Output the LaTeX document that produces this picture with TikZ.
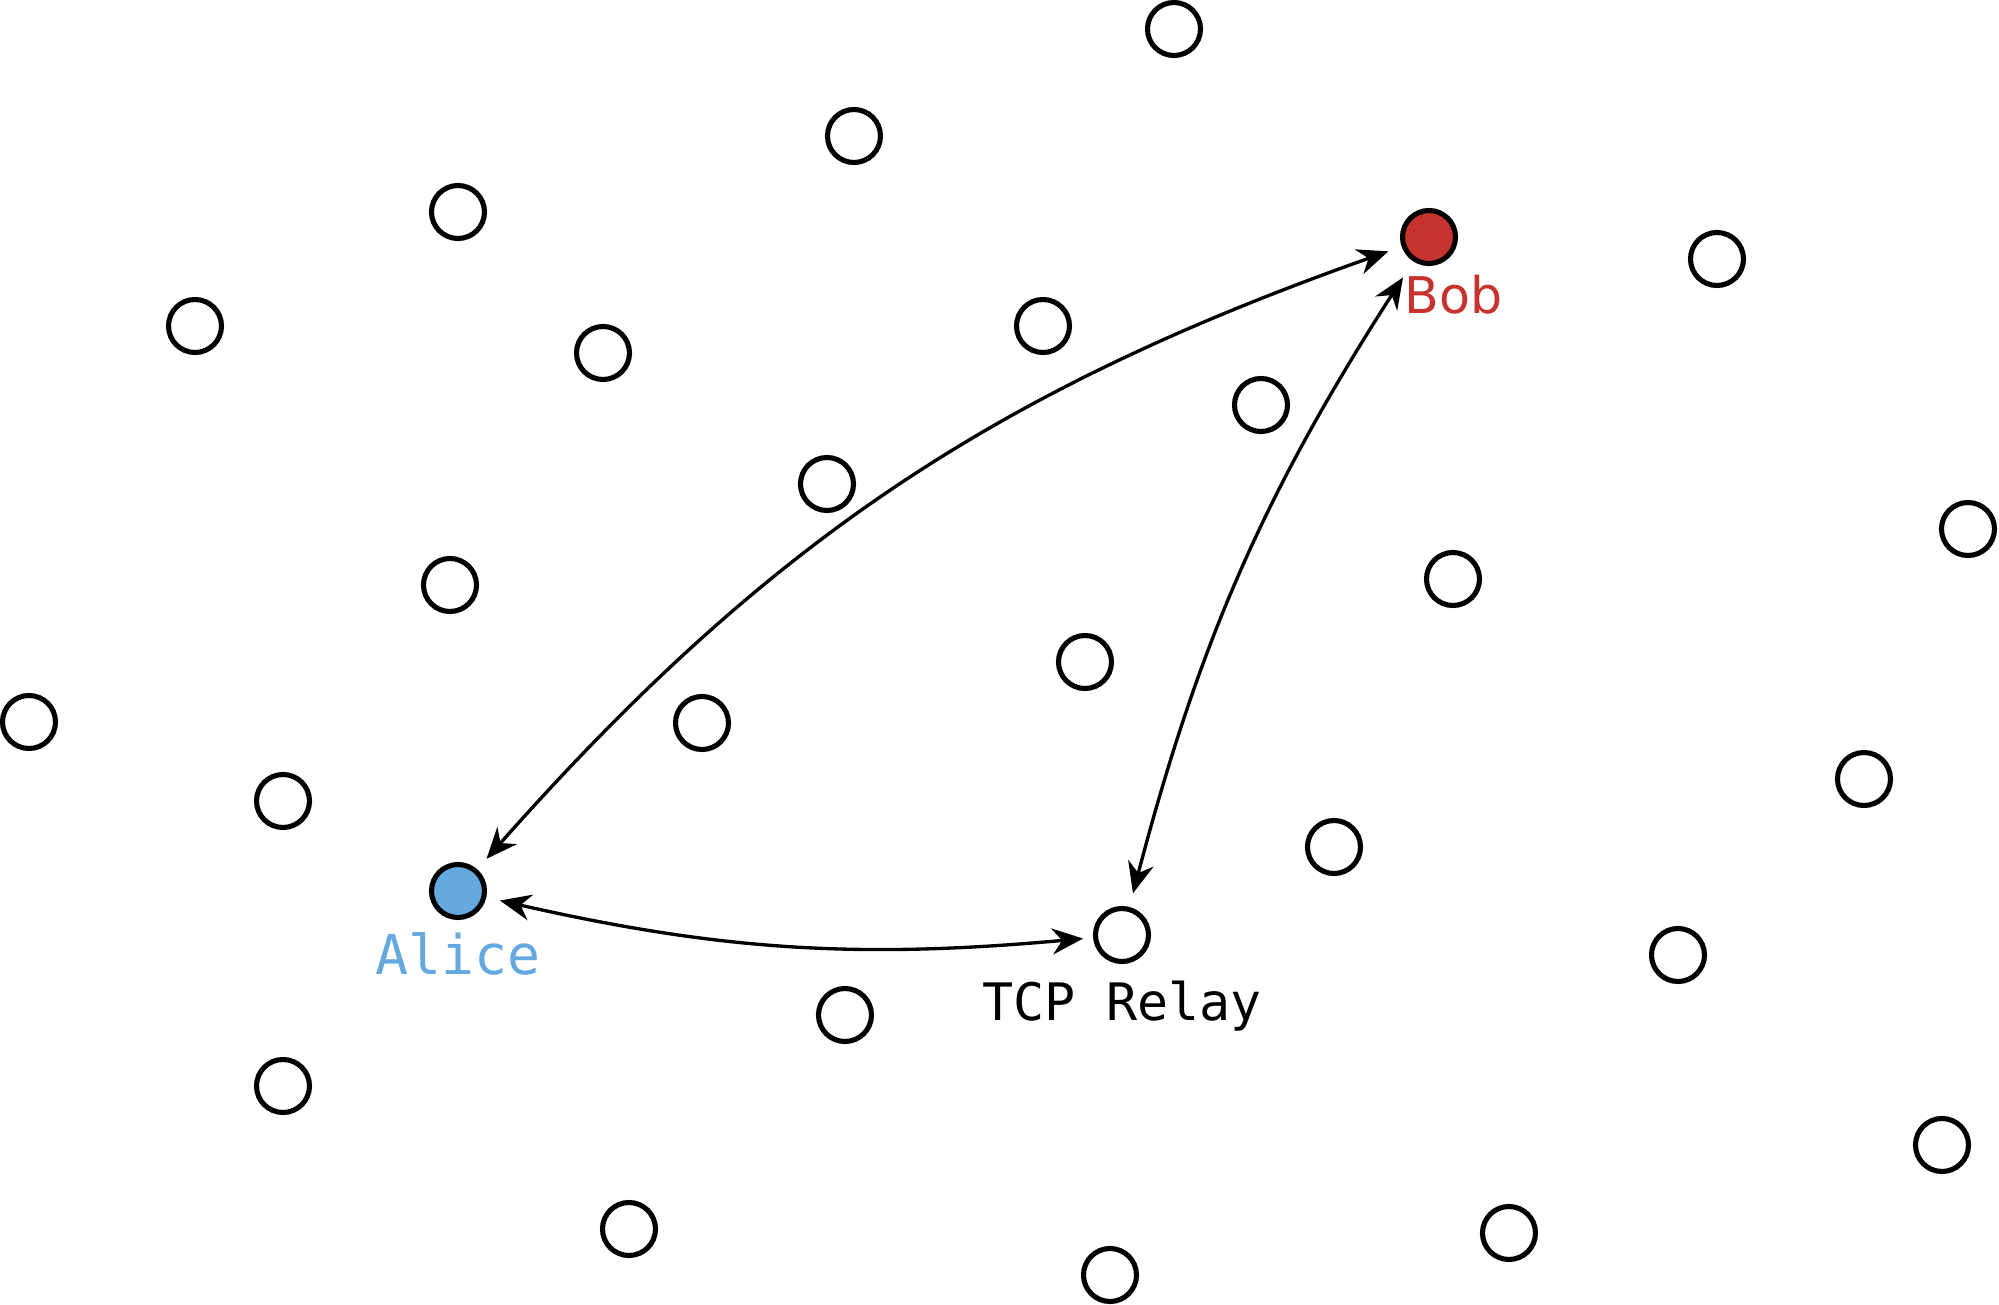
\documentclass[tikz,border=0pt]{standalone}
\usepackage{fontspec}
\setsansfont{DejaVu Sans}
\setmonofont{DejaVu Sans Mono}
\usepackage{xcolor}
\usepackage{tikz}
\usetikzlibrary{arrows.meta}

\definecolor{aliceblue}{HTML}{64A8E0}
\definecolor{bobred}{HTML}{C8322D}

\begin{document}
\begin{tikzpicture}[
    peer/.style={draw, circle, line width=1.45pt, minimum size=0.53cm, inner sep=0pt},
    alicepeer/.style={peer, fill=aliceblue},
    bobpeer/.style={peer, fill=bobred},
    tag/.style={anchor=base, inner sep=0pt, font=\fontsize{14.7}{18}\selectfont\ttfamily},
    link/.style={{Stealth[length=3.1mm,width=2.6mm,inset=1mm]}-{Stealth[length=3.1mm,width=2.6mm,inset=1mm]},
                 line width=0.95pt, shorten <=0.14cm, shorten >=0.14cm},
  ]
  \useasboundingbox (0,0) rectangle (19.99,-13.05);

  % other peers of the overlay
  \node[peer] (p1)  at (11.74,-0.29) {};
  \node[peer] (p2)  at (8.54,-1.36)  {};
  \node[peer] (p3)  at (4.58,-2.12)  {};
  \node[peer] (p4)  at (1.95,-3.26)  {};
  \node[peer] (p5)  at (6.03,-3.53)  {};
  \node[peer] (p6)  at (10.43,-3.26) {};
  \node[peer] (p7)  at (17.17,-2.59) {};
  \node[peer] (p8)  at (12.61,-4.05) {};
  \node[peer] (p9)  at (8.27,-4.84)  {};
  \node[peer] (p10) at (4.50,-5.85)  {};
  \node[peer] (p11) at (19.68,-5.29) {};
  \node[peer] (p12) at (14.53,-5.79) {};
  \node[peer] (p13) at (10.85,-6.62) {};
  \node[peer] (p14) at (0.29,-7.22)  {};
  \node[peer] (p15) at (7.02,-7.23)  {};
  \node[peer] (p16) at (2.83,-8.01)  {};
  \node[peer] (p17) at (18.64,-7.79) {};
  \node[peer] (p18) at (13.34,-8.47) {};
  \node[peer] (p19) at (16.78,-9.55) {};
  \node[peer] (p20) at (8.45,-10.15) {};
  \node[peer] (p21) at (2.83,-10.86) {};
  \node[peer] (p22) at (19.42,-11.45) {};
  \node[peer] (p23) at (6.29,-12.29) {};
  \node[peer] (p24) at (15.09,-12.33) {};
  \node[peer] (p25) at (11.10,-12.75) {};

  % the three peers that talk
  \node[alicepeer] (alice) at (4.58,-8.91)  {};
  \node[bobpeer]   (bob)   at (14.29,-2.37) {};
  \node[peer]      (relay) at (11.22,-9.35) {};

  \node[tag, text=aliceblue, font=\fontsize{15.6}{18}\selectfont\ttfamily]
       (alicetag) at ([yshift=-0.84cm]alice.center) {Alice};
  \node[tag] (relaytag) at ([yshift=-0.85cm]relay.center) {TCP Relay};
  \node[tag, anchor=base west, text=bobred, font=\fontsize{14.4}{18}\selectfont\sffamily]
       (bobtag) at ([xshift=-0.25cm, yshift=-0.77cm]bob.center) {Bob};

  \draw[link] (alice) to[bend left=14.5] (bob);
  \draw[link, shorten >=0.19cm] (relay) to[bend left=9] (bob);
  \draw[link, shorten >=0.10cm] (alice) to[bend right=9] (relay);
\end{tikzpicture}
\end{document}
